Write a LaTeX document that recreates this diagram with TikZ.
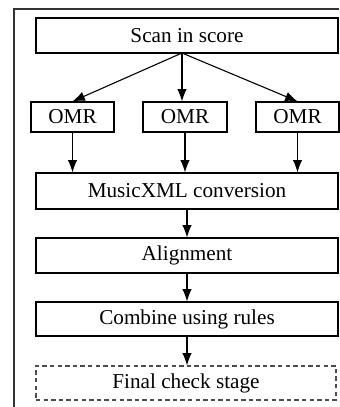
\documentclass[tikz,border=0pt]{standalone}
\usepackage{fontspec}
\setmainfont{Liberation Serif}
\usetikzlibrary{arrows.meta,calc}
\begin{document}
\begin{tikzpicture}[x=0.5pt,y=-0.5pt,
  box/.style={draw=black, line width=0.6pt, rectangle, inner sep=0pt,
    font=\fontsize{10.6pt}{12.5pt}\selectfont, text=black},
  wide/.style={box, minimum width=151pt},
  omr/.style={box, minimum width=41.5pt, minimum height=15pt},
  dashbox/.style={box, draw=black!70, dash pattern=on 2.2pt off 1.6pt},
  arr/.style={-{Latex[length=6.2pt,width=4.8pt]}, line width=0.55pt, black}]
\useasboundingbox (0,0) rectangle (339,407);
\draw[line width=0.6pt, black!80] (339,9) -- (14,9) -- (14,407);
\node[wide, minimum height=17.5pt] (scan) at (187,35.5) {Scan in score};
\node[omr] (omr1) at (72.5,117) {OMR};
\node[omr, minimum width=42pt] (omr2) at (185,117) {OMR};
\node[omr] (omr3) at (297.5,117) {OMR};
\node[wide, minimum height=18pt] (mxml) at (187,191) {MusicXML conversion};
\node[wide, minimum height=17.5pt] (align) at (187,255.5) {Alignment};
\node[wide, minimum height=17pt] (comb) at (187,319) {Combine using rules};
\node[dashbox, minimum width=150pt, minimum height=17pt] (final) at (186,383) {Final check stage};
\coordinate (s0) at (182,53);
\draw[arr] (s0) -- (omr1.north);
\draw[arr] (s0) -- (s0 |- omr2.north);
\draw[arr] (s0) -- (omr3.north);
\draw[arr] (omr1.south) -- (omr1.south |- mxml.north);
\draw[arr] (omr2.south) -- (omr2.south |- mxml.north);
\draw[arr] (omr3.south) -- (omr3.south |- mxml.north);
\draw[arr] (mxml.south) -- (align.north);
\draw[arr] (align.south) -- (comb.north);
\draw[arr] (comb.south) -- (final.north -| comb.south);
\end{tikzpicture}
\end{document}
